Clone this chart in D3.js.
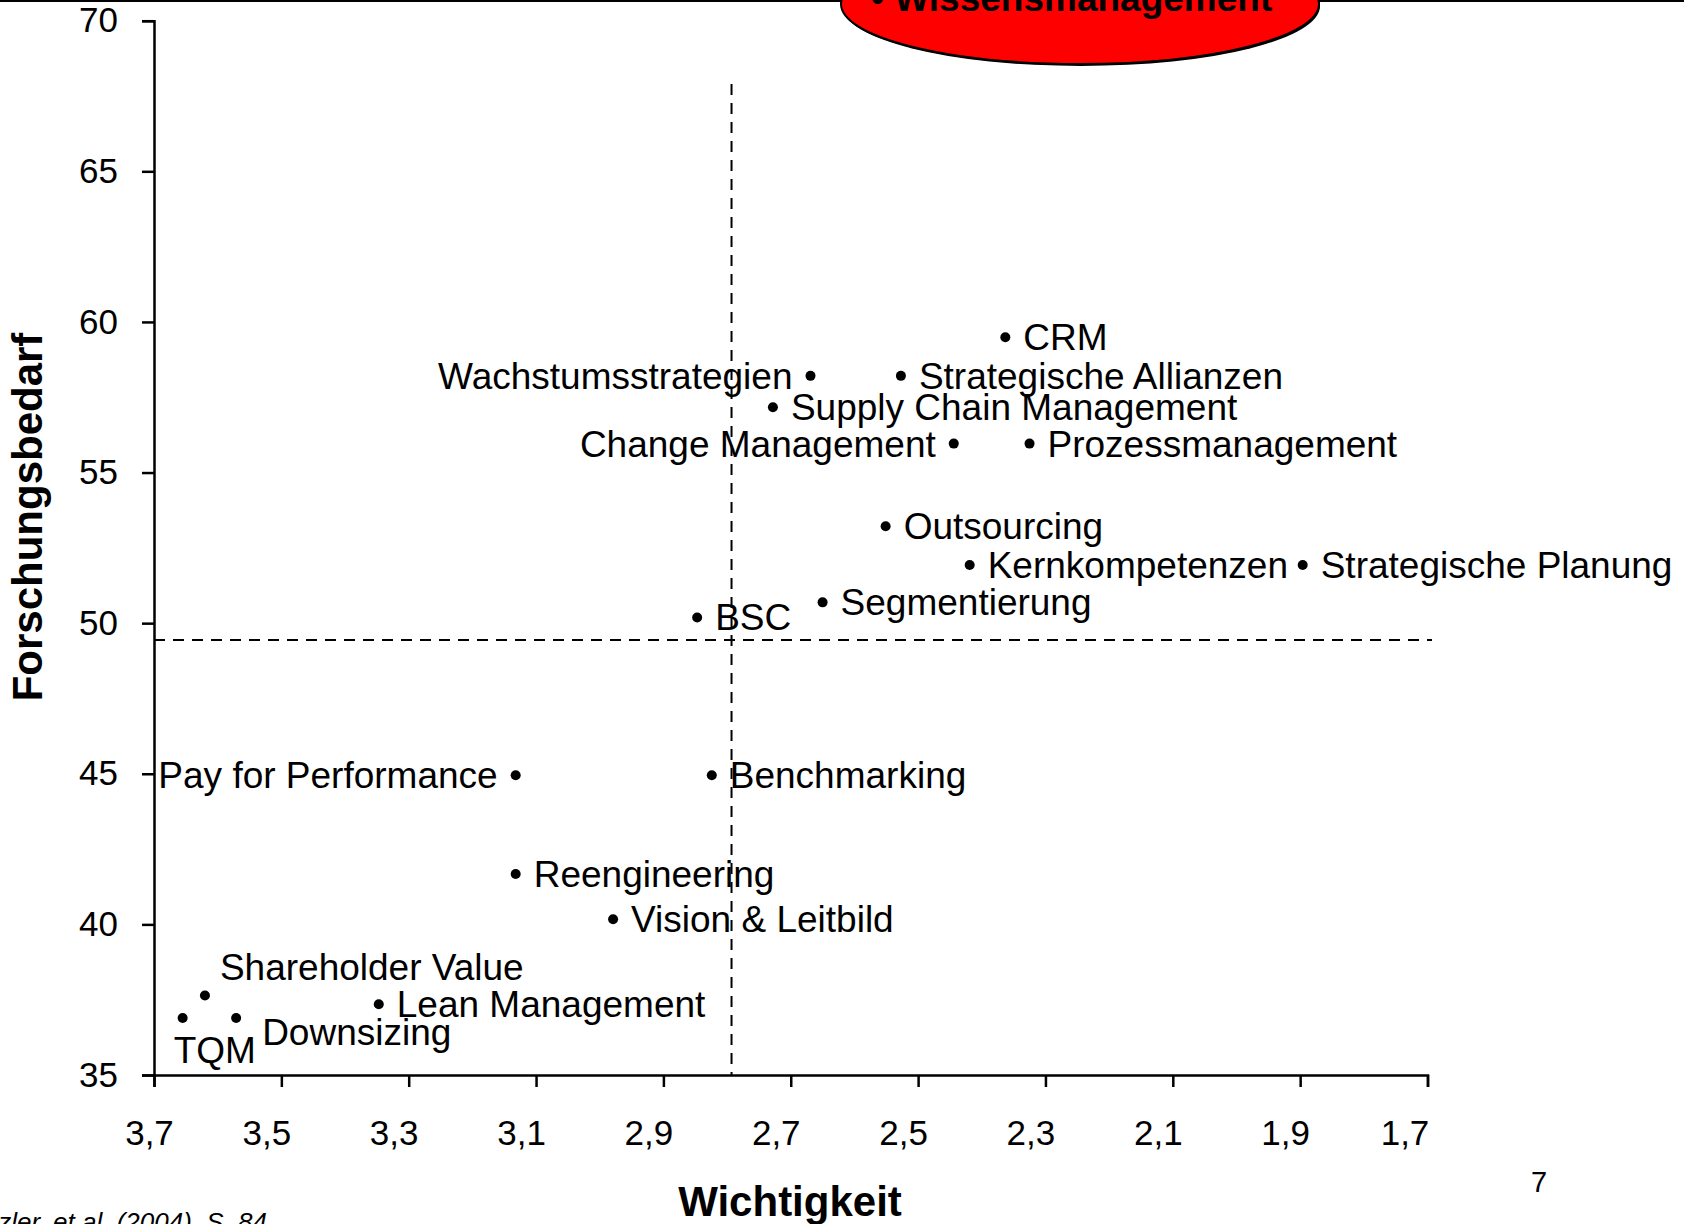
<!DOCTYPE html>
<html>
<head>
<meta charset="utf-8">
<script src="https://cdn.jsdelivr.net/npm/d3@7"></script>
<style>
  body { margin: 0; background: #fff; }
  text { font-family: "Liberation Sans", Arial, sans-serif; }
</style>
</head>
<body>
<script>
//Declare consts/global variables
    const width = 1684;
    const height = 1224;

//Data
    const topics = ["CRM", "Wachstumsstrategien", "Strategische Allianzen", "Supply Chain Management",
        "Change Management", "Prozessmanagement", "Outsourcing", "Kernkompetenzen",
        "Strategische Planung", "Segmentierung", "BSC", "Pay for Performance", "Benchmarking",
        "Reengineering", "Vision & Leitbild", "Shareholder Value", "Lean Management", "TQM", "Downsizing"];
    const wichtigkeit = [2.363, 2.669, 2.527, 2.728, 2.444, 2.325, 2.551, 2.419, 1.896, 2.650, 2.847,
        3.132, 2.824, 3.132, 2.979, 3.620, 3.347, 3.655, 3.571];
    const forschungsbedarf = [59.49, 58.21, 58.21, 57.17, 55.96, 55.96, 53.22, 51.93, 51.93, 50.69, 50.19,
        44.95, 44.95, 41.67, 40.17, 37.64, 37.35, 36.89, 36.89];

    const xTicks = [3.7, 3.5, 3.3, 3.1, 2.9, 2.7, 2.5, 2.3, 2.1, 1.9, 1.7];
    const yTicks = [35, 40, 45, 50, 55, 60, 65, 70];

    const meanX = 2.793; //dashed vertical line
    const meanY = 49.44; //dashed horizontal line

    const highlight = "• Wissensmanagement";
    const source = "zler, et al. (2004), S. 84";
    const pageNo = "7";

    const data = topics.map((t, i) => ({ name: t, x: wichtigkeit[i], y: forschungsbedarf[i] }));

    //label placement (offsets from the dot)
    const labelLeft = ["Wachstumsstrategien", "Change Management", "Pay for Performance"];
    const labelSpecial = {
        "TQM": { dx: -9, dy: 45 },
        "Shareholder Value": { dx: 15, dy: -15 },
        "Downsizing": { dx: 26, dy: 27 }
    };

//Scales
    const xScale = d3.scaleLinear()
                    .domain([3.7, 1.7])
                    .range([154, 1427.5]);

    const yScale = d3.scaleLinear()
                    .domain([35, 70])
                    .range([1075, 20.7]);

//SVG
    const svg = d3.select("body")
                .append("svg")
                .attr("width", width)
                .attr("height", height);

//top rule + red ellipse
    svg.append("line")
        .attr("x1", 0).attr("x2", width)
        .attr("y1", 1).attr("y2", 1)
        .attr("stroke", "#000")
        .attr("stroke-width", 2);

    svg.append("ellipse")
        .attr("cx", 1081).attr("cy", 6)
        .attr("rx", 239).attr("ry", 60)
        .attr("fill", "#000");

    svg.append("ellipse")
        .attr("cx", 1080).attr("cy", 4)
        .attr("rx", 239).attr("ry", 60)
        .attr("fill", "#ff0000")
        .attr("stroke", "#000")
        .attr("stroke-width", 2);

    svg.append("text")
        .attr("x", 871).attr("y", 11)
        .attr("font-size", 37)
        .attr("font-weight", "bold")
        .text(highlight);

//dashed mean lines
    svg.append("line")
        .attr("x1", xScale(meanX)).attr("x2", xScale(meanX))
        .attr("y1", 84).attr("y2", yScale(35))
        .attr("stroke", "#000")
        .attr("stroke-width", 2)
        .attr("stroke-dasharray", "11,8");

    svg.append("line")
        .attr("x1", xScale(3.7)).attr("x2", 1432)
        .attr("y1", yScale(meanY)).attr("y2", yScale(meanY))
        .attr("stroke", "#000")
        .attr("stroke-width", 2)
        .attr("stroke-dasharray", "11,8");

//Axes
    const bottomAxis = d3.axisBottom(xScale)
                        .tickValues(xTicks)
                        .tickSize(12)
                        .tickPadding(33)
                        .tickFormat(d => d3.format(".1f")(d).replace(".", ","));

    const leftAxis = d3.axisLeft(yScale)
                        .tickValues(yTicks)
                        .tickSize(12)
                        .tickPadding(24)
                        .tickFormat(d3.format("d"));

    const gx = svg.append("g")
        .attr("transform", "translate(0," + yScale(35) + ")")
        .call(bottomAxis);

    const gy = svg.append("g")
        .attr("transform", "translate(" + xScale(3.7) + ",0)")
        .call(leftAxis);

    [gx, gy].forEach(g => {
        g.selectAll("path, line").attr("stroke", "#000").attr("stroke-width", 2.5);
        g.selectAll("text")
            .attr("font-family", "'Liberation Sans', Arial, sans-serif")
            .attr("font-size", 35)
            .attr("fill", "#000");
    });
    //labels sit a bit left of their ticks (less at the first, more at the last)
    gx.selectAll("text").attr("dx", (d, i) => i === 0 ? -5 : (i === xTicks.length - 1 ? -23 : -15));

//Points
    svg.selectAll("circle.pt")
        .data(data)
        .enter()
        .append("circle")
        .attr("class", "pt")
        .attr("cx", d => xScale(d.x))
        .attr("cy", d => yScale(d.y))
        .attr("r", 5)
        .attr("fill", "#000");

//Labels
    svg.selectAll("text.lbl")
        .data(data)
        .enter()
        .append("text")
        .attr("class", "lbl")
        .attr("x", d => {
            if (labelSpecial[d.name]) return xScale(d.x) + labelSpecial[d.name].dx;
            return labelLeft.includes(d.name) ? xScale(d.x) - 18 : xScale(d.x) + 18;
        })
        .attr("y", d => yScale(d.y) + (labelSpecial[d.name] ? labelSpecial[d.name].dy : 13))
        .attr("text-anchor", d => labelLeft.includes(d.name) ? "end" : "start")
        .attr("font-size", 37)
        .attr("fill", "#000")
        .text(d => d.name);

//Axis titles
    svg.append("text")
        .attr("transform", "translate(42,517) rotate(-90)")
        .attr("text-anchor", "middle")
        .attr("font-size", 42)
        .attr("font-weight", "bold")
        .text("Forschungsbedarf");

    svg.append("text")
        .attr("x", 790).attr("y", 1216)
        .attr("text-anchor", "middle")
        .attr("font-size", 42)
        .attr("font-weight", "bold")
        .text("Wichtigkeit");

//footer
    svg.append("text")
        .attr("x", 1531).attr("y", 1192)
        .attr("font-size", 29)
        .text(pageNo);

    svg.append("text")
        .attr("x", 267).attr("y", 1231)
        .attr("text-anchor", "end")
        .attr("font-size", 26)
        .attr("font-style", "italic")
        .text(source);
</script>
</body>
</html>
